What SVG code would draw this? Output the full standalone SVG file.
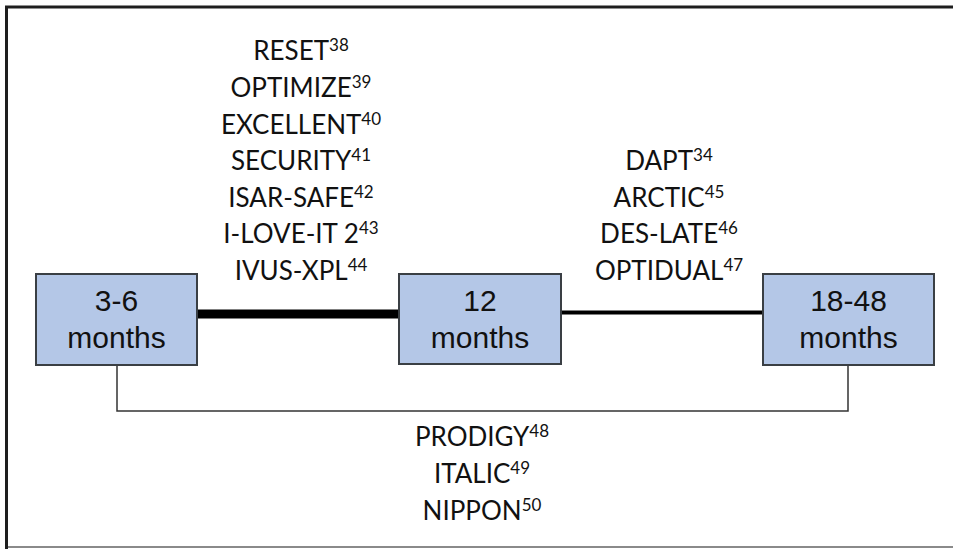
<svg xmlns="http://www.w3.org/2000/svg" width="953" height="549" viewBox="0 0 953 549">
<style>
.box{fill:#b4c7e7;stroke:#3a3f44;stroke-width:2}
.bt{font-family:"Liberation Sans",Arial,sans-serif;font-size:30px;fill:#111;text-anchor:middle}
.lb{font-family:Lato,"Open Sans",sans-serif;font-size:26px;fill:#111;text-anchor:middle}
.sup{font-size:17px}
</style>
<rect x="0" y="0" width="953" height="549" fill="#fff"/>
<g id="frame" fill="none">
<path d="M6.5 549 V7 H953" stroke="#1e1e1e" stroke-width="3"/>
<path d="M8 547 H953" stroke="#8a8a8a" stroke-width="2"/>
</g>
<g id="connectors" fill="none">
<line x1="197" y1="314" x2="399" y2="314" stroke="#000" stroke-width="9"/>
<line x1="561" y1="312.5" x2="763" y2="312.5" stroke="#000" stroke-width="4"/>
<path d="M117 365 V411 H848 V365" stroke="#333" stroke-width="1.5"/>
</g>
<g id="n1">
<rect class="box" x="36" y="274" width="161" height="91"/>
<text class="bt" x="116.5" y="311">3-6</text>
<text class="bt" x="116.5" y="348">months</text>
</g>
<g id="n2">
<rect class="box" x="399" y="274" width="162" height="90"/>
<text class="bt" x="480" y="311">12</text>
<text class="bt" x="480" y="348">months</text>
</g>
<g id="n3">
<rect class="box" x="763" y="274" width="171" height="91"/>
<text class="bt" x="848.5" y="311">18-48</text>
<text class="bt" x="848.5" y="348">months</text>
</g>
<g id="labels-left">
<text class="lb" x="301" y="60">RESET<tspan class="sup" dy="-9">38</tspan></text>
<text class="lb" x="301" y="97">OPTIMIZE<tspan class="sup" dy="-9">39</tspan></text>
<text class="lb" x="301" y="134">EXCELLENT<tspan class="sup" dy="-9">40</tspan></text>
<text class="lb" x="301" y="170">SECURITY<tspan class="sup" dy="-9">41</tspan></text>
<text class="lb" x="301" y="207">ISAR-SAFE<tspan class="sup" dy="-9">42</tspan></text>
<text class="lb" x="301" y="243">I-LOVE-IT 2<tspan class="sup" dy="-9">43</tspan></text>
<text class="lb" x="301" y="280">IVUS-XPL<tspan class="sup" dy="-9">44</tspan></text>
</g>
<g id="labels-right">
<text class="lb" x="669" y="170">DAPT<tspan class="sup" dy="-9">34</tspan></text>
<text class="lb" x="669" y="207">ARCTIC<tspan class="sup" dy="-9">45</tspan></text>
<text class="lb" x="669" y="243">DES-LATE<tspan class="sup" dy="-9">46</tspan></text>
<text class="lb" x="669" y="280">OPTIDUAL<tspan class="sup" dy="-9">47</tspan></text>
</g>
<g id="labels-bottom">
<text class="lb" x="482" y="446">PRODIGY<tspan class="sup" dy="-9">48</tspan></text>
<text class="lb" x="482" y="483">ITALIC<tspan class="sup" dy="-9">49</tspan></text>
<text class="lb" x="482" y="520">NIPPON<tspan class="sup" dy="-9">50</tspan></text>
</g>
</svg>
